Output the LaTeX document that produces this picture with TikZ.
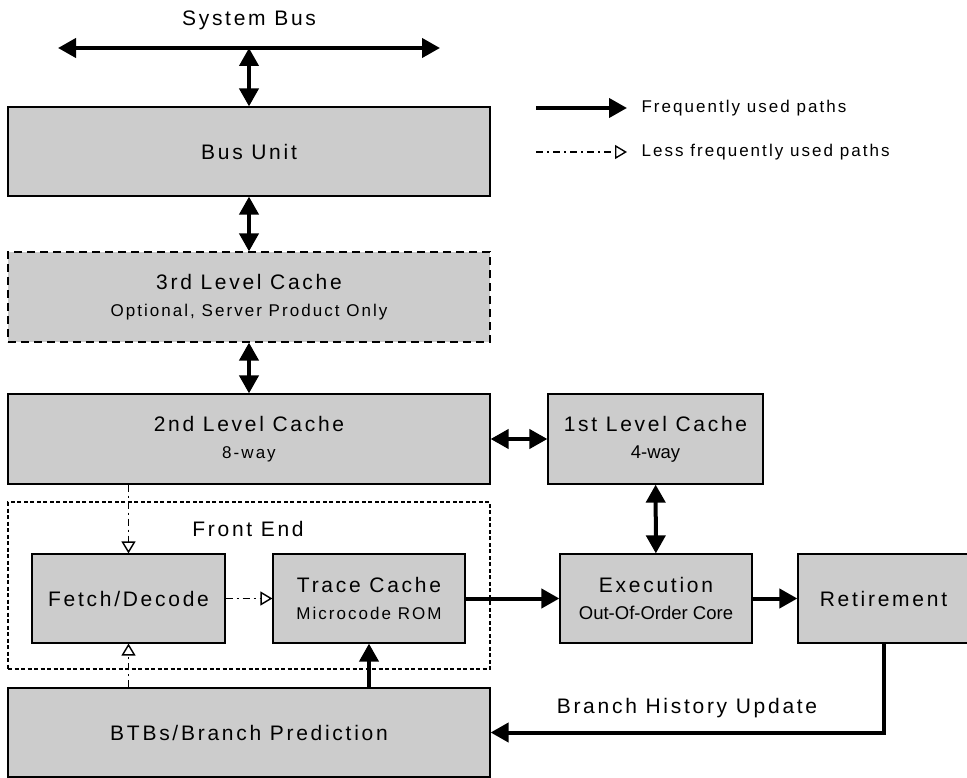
\documentclass[tikz,border=0pt]{standalone}
\usepackage{fontspec}
\setmainfont{Liberation Sans}
\newfontfamily\spacedfont[LetterSpace=13]{Liberation Sans}
\newfontfamily\subspfont[LetterSpace=12]{Liberation Sans}
\usetikzlibrary{arrows.meta}
\definecolor{boxgray}{RGB}{204,204,204}
\newcommand{\subtxt}[1]{{\subspfont\fontsize{17}{20}\selectfont #1}}
\newcommand{\plaintxt}[1]{{\rmfamily\fontsize{18.5}{20}\selectfont #1}}

\begin{document}
\begin{tikzpicture}[x=1pt, y=-1pt,
    blk/.style={rectangle, draw, line width=1.2pt, fill=boxgray, inner sep=0pt, align=center,
      font=\spacedfont\fontsize{21}{27}\selectfont},
    lbl/.style={font=\spacedfont\fontsize{21}{24}\selectfont},
    fat/.style={line width=4pt, -{Triangle[length=18pt,width=19pt]}},
    fatboth/.style={line width=4pt, {Triangle[length=18pt,width=19pt]}-{Triangle[length=18pt,width=19pt]}},
    slim/.style={line width=1.5pt, dash pattern=on 7pt off 4pt on 2pt off 4pt, -{Triangle[open,length=12pt,width=14pt,line width=1.4pt]}}]
    \useasboundingbox (0,0) rectangle (967,778);

    % bus
    \node(sb)[lbl] at (249,20) {System Bus};
    \coordinate(busl) at (58,48);
    \coordinate(busr) at (440,48);
    \coordinate(busm) at (249,48);
    \node(bus)[blk, minimum width=482pt, minimum height=89pt] at (249,151.5) {Bus Unit};
    \node(l3)[blk, dash pattern=on 8pt off 5pt, minimum width=482pt, minimum height=90pt] at (249,297)
      {3rd Level Cache\\ \subtxt{Optional, Server Product Only}};
    \node(l2)[blk, minimum width=482pt, minimum height=90pt] at (249,439) {2nd Level Cache\\ \subtxt{8-way}};
    \node(l1)[blk, minimum width=215pt, minimum height=90pt] at (655.5,439) {1st Level Cache\\ \plaintxt{4-way}};

    % front end
    \node(fe)[rectangle, draw, line width=1.2pt, dash pattern=on 4pt off 2.5pt, minimum width=482pt, minimum height=167pt] at (249,585.5) {};
    \node(fel)[lbl] at (248,529) {Front End};
    \node(fd)[blk, minimum width=193pt, minimum height=89pt] at (128.5,598.5) {Fetch/Decode};
    \node(tc)[blk, minimum width=192pt, minimum height=89pt] at (369,598.5) {Trace Cache\\ \subtxt{Microcode ROM}};
    \node(ex)[blk, minimum width=192pt, minimum height=89pt] at (656,598.5) {Execution\\ \plaintxt{Out-Of-Order Core}};
    \node(rt)[blk, minimum width=171pt, minimum height=89pt] at (883.5,598.5) {Retirement};
    \node(btb)[blk, minimum width=482pt, minimum height=89pt] at (249,732.5) {BTBs/Branch Prediction};
    \node(bhu)[lbl] at (687,708) {Branch History Update};

    \draw[fatboth] (busl) -- (busr);
    \draw[fatboth] (busm) -- (bus.north);
    \draw[fatboth] (bus) -- (l3);
    \draw[fatboth] (l3) -- (l2);
    \draw[fatboth] (l2) -- (l1);
    \draw[fatboth] (l1) -- (ex);
    \draw[fat] (tc) -- (ex);
    \draw[fat] (ex) -- (rt);
    \draw[fat] (rt.south) |- (btb.east);
    \draw[fat] (tc.south |- btb.north) -- (tc.south);
    \draw[slim] (fd.north |- l2.south) -- (fd.north);
    \draw[slim] (fd.south |- btb.north) -- (fd.south);
    \draw[slim] (fd) -- (tc);

    % legend
    \coordinate(lga) at (536,108);
    \coordinate(lgb) at (627,108);
    \coordinate(lgc) at (536,152);
    \coordinate(lgd) at (627,152);
    \draw[fat] (lga) -- (lgb);
    \draw[slim] (lgc) -- (lgd);
    \node(lgt1)[anchor=west, font=\subspfont\fontsize{17}{20}\selectfont] at (638,108) {Frequently used paths};
    \node(lgt2)[anchor=west, font=\subspfont\fontsize{17}{20}\selectfont] at (638,152) {Less frequently used paths};

  \end{tikzpicture}
\end{document}
